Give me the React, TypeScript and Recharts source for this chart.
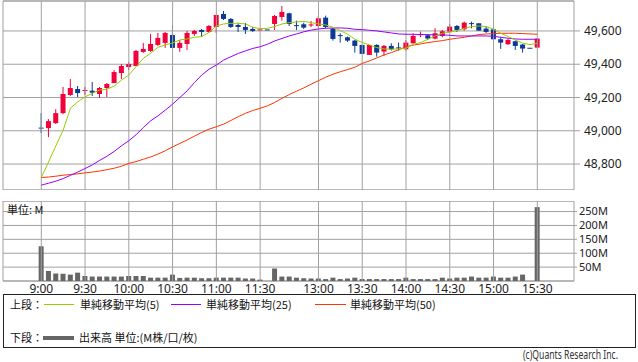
import {
  ComposedChart,
  Bar,
  Line,
  XAxis,
  YAxis,
  CartesianGrid,
  ReferenceLine,
  ReferenceArea,
} from 'recharts';

// 5-minute slots, index 31 is the lunch-break gap
const slots = [
  '9:00', '9:05', '9:10', '9:15', '9:20', '9:25', '9:30', '9:35', '9:40', '9:45',
  '9:50', '9:55', '10:00', '10:05', '10:10', '10:15', '10:20', '10:25', '10:30', '10:35',
  '10:40', '10:45', '10:50', '10:55', '11:00', '11:05', '11:10', '11:15', '11:20', '11:25',
  '11:30', '', '12:30', '12:35', '12:40', '12:45', '12:50', '12:55', '13:00', '13:05',
  '13:10', '13:15', '13:20', '13:25', '13:30', '13:35', '13:40', '13:45', '13:50', '13:55',
  '14:00', '14:05', '14:10', '14:15', '14:20', '14:25', '14:30', '14:35', '14:40', '14:45',
  '14:50', '14:55', '15:00', '15:05', '15:10', '15:15', '15:20', '15:25', '15:30',
];

const openP = [
  49016, 49016, 49046, 49106, 49215, 49251, 49239, 49241, 49221, 49257,
  49287, 49347, 49383, 49389, 49474, 49480, 49516, 49528, 49576, 49498,
  49522, 49582, 49606, 49594, 49624, 49702, 49672, 49636, 49624, 49612,
  49600, 49606, 49642, 49684, 49706, 49632, 49640, 49632, 49630, 49680,
  49614, 49572, 49562, 49542, 49516, 49456, 49516, 49476, 49510, 49498,
  49490, 49526, 49574, 49574, 49554, 49570, 49596, 49630, 49610, 49644,
  49646, 49614, 49610, 49550, 49520, 49538, 49518, 49496, 49500,
];
const highP = [
  49106, 49070, 49130, 49263, 49311, 49269, 49263, 49293, 49263, 49287,
  49365, 49401, 49413, 49486, 49528, 49582, 49588, 49594, 49636, 49546,
  49600, 49606, 49612, 49636, 49696, 49720, 49678, 49648, 49648, 49624,
  49612, 49606, 49696, 49750, 49710, 49662, 49650, 49660, 49690, 49692,
  49618, 49586, 49566, 49546, 49516, 49516, 49520, 49516, 49526, 49530,
  49546, 49586, 49596, 49580, 49616, 49606, 49642, 49636, 49656, 49656,
  49646, 49630, 49622, 49562, 49552, 49542, 49522, 49496, 49554,
];
const lowP = [
  48986, 48962, 49040, 49100, 49209, 49203, 49215, 49209, 49197, 49203,
  49287, 49311, 49365, 49389, 49468, 49474, 49510, 49498, 49498, 49474,
  49486, 49570, 49564, 49588, 49588, 49666, 49618, 49594, 49582, 49594,
  49600, 49606, 49606, 49662, 49630, 49606, 49612, 49624, 49618, 49616,
  49542, 49530, 49534, 49470, 49462, 49456, 49445, 49450, 49482, 49482,
  49482, 49524, 49562, 49546, 49550, 49562, 49590, 49594, 49602, 49616,
  49600, 49588, 49546, 49492, 49516, 49486, 49470, 49496, 49500,
];
const closeP = [
  49010, 49058, 49106, 49221, 49257, 49227, 49242, 49229, 49257, 49281,
  49353, 49389, 49401, 49480, 49492, 49522, 49558, 49588, 49498, 49528,
  49588, 49600, 49594, 49630, 49696, 49672, 49624, 49624, 49606, 49600,
  49606, 49606, 49690, 49714, 49642, 49628, 49620, 49636, 49676, 49624,
  49552, 49568, 49542, 49510, 49462, 49516, 49470, 49510, 49490, 49494,
  49530, 49570, 49578, 49554, 49586, 49598, 49626, 49606, 49650, 49640,
  49602, 49594, 49550, 49530, 49546, 49510, 49494, 49496, 49554,
];

const ma5 = [
  48719, 48813, 48910, 49004, 49136, 49174, 49204, 49225, 49245, 49249,
  49269, 49305, 49335, 49385, 49436, 49466, 49502, 49516, 49528, 49546,
  49552, 49562, 49566, 49592, 49630, 49642, 49646, 49646, 49642, 49622,
  49614, 49616, 49626, 49642, 49650, 49654, 49658, 49650, 49642, 49636,
  49622, 49602, 49580, 49550, 49530, 49516, 49500, 49492, 49490, 49492,
  49496, 49520, 49530, 49550, 49570, 49586, 49592, 49602, 49616, 49626,
  49630, 49626, 49610, 49586, 49566, 49546, 49526, 49518, 49526,
];
const ma25 = [
  48673, 48685, 48697, 48713, 48732, 48752, 48773, 48795, 48822, 48847,
  48876, 48910, 48940, 48976, 49020, 49060, 49090, 49124, 49160, 49200,
  49240, 49290, 49335, 49370, 49395, 49425, 49445, 49465, 49480, 49495,
  49505, 49520, 49540, 49555, 49570, 49582, 49595, 49605, 49612, 49616,
  49618, 49618, 49616, 49610, 49608, 49604, 49600, 49594, 49588, 49582,
  49580, 49580, 49578, 49578, 49576, 49576, 49574, 49570, 49570, 49570,
  49570, 49570, 49568, 49562, 49556, 49552, 49550, 49550, 49550,
];
const ma50 = [
  48719, 48722, 48727, 48733, 48737, 48741, 48747, 48752, 48758, 48766,
  48775, 48787, 48804, 48815, 48829, 48843, 48860, 48880, 48903, 48924,
  48945, 48968, 48990, 49010, 49024, 49040, 49062, 49085, 49105, 49122,
  49135, 49150, 49170, 49195, 49218, 49238, 49258, 49280, 49301, 49322,
  49340, 49355, 49368, 49382, 49405, 49420, 49438, 49456, 49470, 49487,
  49505, 49515, 49522, 49530, 49536, 49542, 49550, 49556, 49562, 49570,
  49578, 49582, 49584, 49586, 49586, 49586, 49584, 49582, 49580,
];

// volume in millions
const volume = [
  125, 36, 27, 26, 23, 30, 18, 16, 16, 16,
  16, 16, 18, 18, 18, 12, 12, 12, 23, 11,
  12, 12, 10, 10, 12, 12, 12, 12, 9, 9,
  5, 0, 45, 16, 16, 12, 10, 9, 9, 7,
  12, 7, 9, 12, 7, 7, 7, 7, 7, 7,
  12, 7, 7, 7, 7, 12, 9, 12, 12, 16,
  12, 12, 16, 12, 12, 16, 23, 0, 266,
];

const timeTicks = [0, 6, 12, 18, 24, 30, 38, 44, 50, 56, 62, 68];
const priceTicks = [48800, 49000, 49200, 49400, 49600];
const volumeTicks = [50, 100, 150, 200, 250];

const X_DOMAIN: [number, number] = [-5.25, 73.03];
const P_DOMAIN: [number, number] = [48644, 49780];
const V_DOMAIN: [number, number] = [0, 288];

const UP = '#f2003c';
const DOWN = '#0a3a96';
const GRID = '#a0a0a0';
const FONT = '"Noto Sans", "Noto Sans CJK JP", sans-serif';
const JP = '"Noto Sans CJK JP", "Noto Sans", sans-serif';

const data = slots.map((t, i) => ({
  i,
  t,
  open: openP[i],
  high: highP[i],
  low: lowP[i],
  close: closeP[i],
  ma5: ma5[i],
  ma25: ma25[i],
  ma50: ma50[i],
  vol: volume[i],
}));

function Candle(props: any) {
  const { x, y, width, height, payload } = props;
  if (x == null || y == null) return null;
  const { open, close, high, low } = payload;
  const color = close > open ? UP : DOWN;
  const top = Math.min(y, y + height);
  const h = Math.abs(height);
  const ratio = high > low ? h / (high - low) : 0;
  const yOf = (v: number) => top + (high - v) * ratio;
  const bTop = yOf(Math.max(open, close));
  const bBot = yOf(Math.min(open, close));
  const cx = x + width / 2;
  return (
    <g>
      {h > 0 && <line x1={cx} x2={cx} y1={top} y2={top + h} stroke={color} strokeWidth={1} />}
      <rect x={x} y={bTop - (bBot - bTop < 1 ? 0.5 : 0)} width={width} height={Math.max(bBot - bTop, 1)} fill={color} />
    </g>
  );
}

const tickStyle = { fill: '#222', fontSize: 12, fontFamily: FONT };
const volTickStyle = { fill: '#222', fontSize: 11, fontFamily: FONT };

function PriceChart() {
  return (
    <ComposedChart width={638} height={190} data={data} margin={{ top: 1, right: 0, bottom: 0, left: 3 }}>
      <CartesianGrid stroke={GRID} vertical={false} />
      <XAxis dataKey="i" type="number" domain={X_DOMAIN} ticks={timeTicks} hide allowDataOverflow />
      <YAxis
        orientation="right"
        type="number"
        domain={P_DOMAIN}
        ticks={priceTicks}
        interval={0}
        width={64}
        axisLine={false}
        tickLine={{ stroke: GRID }}
        tickSize={6}
        tickMargin={4}
        tick={tickStyle}
        tickFormatter={(v: number) => v.toLocaleString('en-US')}
        allowDataOverflow
      />
      {timeTicks.map(i => (
        <ReferenceLine key={i} x={i} stroke={GRID} />
      ))}
      <ReferenceArea x1={X_DOMAIN[0]} x2={X_DOMAIN[1]} y1={P_DOMAIN[0]} y2={P_DOMAIN[1]} fill="none" stroke={GRID} />
      <Bar dataKey={(d: any) => [d.low, d.high]} barSize={5} shape={<Candle />} isAnimationActive={false} />
      <Line type="linear" dataKey="ma50" stroke="#ff3300" strokeWidth={1} dot={false} isAnimationActive={false} />
      <Line type="linear" dataKey="ma25" stroke="#9900ff" strokeWidth={1} dot={false} isAnimationActive={false} />
      <Line type="linear" dataKey="ma5" stroke="#99cc00" strokeWidth={1} dot={false} isAnimationActive={false} />
    </ComposedChart>
  );
}

function VolumeChart() {
  return (
    <ComposedChart width={638} height={99} data={data} margin={{ top: 0, right: 0, bottom: 0, left: 3 }}>
      <CartesianGrid stroke={GRID} vertical={false} />
      <XAxis
        dataKey="i"
        type="number"
        domain={X_DOMAIN}
        ticks={timeTicks}
        height={19}
        axisLine={false}
        tickLine={false}
        tickSize={0}
        tickMargin={3}
        tick={tickStyle}
        tickFormatter={(i: number) => slots[i]}
        interval={0}
        allowDataOverflow
      />
      <YAxis
        orientation="right"
        type="number"
        domain={V_DOMAIN}
        ticks={volumeTicks}
        interval={0}
        width={64}
        axisLine={false}
        tickLine={{ stroke: GRID }}
        tickSize={3}
        tickMargin={2}
        tick={volTickStyle}
        tickFormatter={(v: number) => `${v}M`}
        allowDataOverflow
      />
      {timeTicks.map(i => (
        <ReferenceLine key={i} x={i} stroke={GRID} />
      ))}
      <ReferenceArea x1={X_DOMAIN[0]} x2={X_DOMAIN[1]} y1={V_DOMAIN[0]} y2={V_DOMAIN[1]} fill="none" stroke={GRID} />
      <Bar dataKey="vol" barSize={5} fill="#666666" isAnimationActive={false} />
    </ComposedChart>
  );
}

function LegendLine({ color, left, top, width, thick }: { color: string; left: number; top: number; width: number; thick?: boolean }) {
  return (
    <div
      style={{
        position: 'absolute',
        left,
        top,
        width,
        height: thick ? 4 : 1,
        background: color,
      }}
    />
  );
}

function Txt({ left, top, children }: { left: number; top: number; children: any }) {
  return (
    <div style={{ position: 'absolute', left, top, fontSize: 11, lineHeight: '16px', whiteSpace: 'nowrap', color: '#111', fontFamily: JP }}>
      {children}
    </div>
  );
}

export default function App() {
  return (
    <div style={{ position: 'absolute', left: 0, top: 0, width: 638, height: 362, overflow: 'hidden', background: '#fff', fontFamily: FONT }}>
      <div style={{ position: 'absolute', left: 0, top: 0 }}>
        <PriceChart />
      </div>
      <div style={{ position: 'absolute', left: 0, top: 201 }}>
        <VolumeChart />
      </div>
      <Txt left={7} top={201}>単位: M</Txt>

      <div style={{ position: 'absolute', left: 3, top: 294, width: 631, height: 52, border: '1px solid #222' }} />
      <Txt left={10} top={296}>上段：</Txt>
      <LegendLine color="#99cc00" left={44} top={304} width={30} />
      <Txt left={80} top={296}>単純移動平均(5)</Txt>
      <LegendLine color="#9900ff" left={171} top={304} width={30} />
      <Txt left={206} top={296}>単純移動平均(25)</Txt>
      <LegendLine color="#ff3300" left={315} top={304} width={31} />
      <Txt left={350} top={296}>単純移動平均(50)</Txt>

      <Txt left={10} top={329}>下段：</Txt>
      <LegendLine color="#666666" left={43} top={336} width={31} thick />
      <Txt left={79} top={329}>出来高 単位:(M株/口/枚)</Txt>

      <div
        style={{
          position: 'absolute',
          right: 20,
          top: 348,
          fontSize: 12,
          lineHeight: '14px',
          color: '#333',
          fontFamily: FONT,
          whiteSpace: 'nowrap',
          transform: 'scaleX(0.72)',
          transformOrigin: 'right center',
        }}
      >
        (c)Quants Research Inc.
      </div>
    </div>
  );
}
